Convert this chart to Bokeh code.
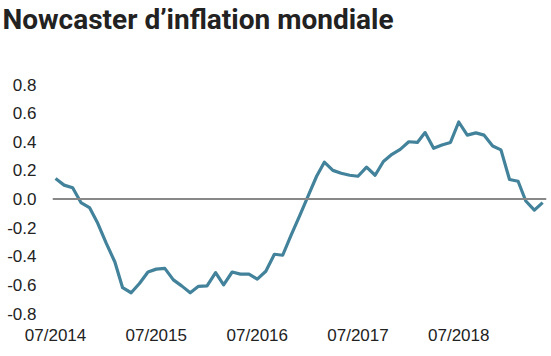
import pandas as pd
from bokeh.plotting import figure
from bokeh.models import Range1d, FixedTicker, Span, DatetimeTickFormatter, NumeralTickFormatter, ColumnDataSource, Title
from bokeh.embed import file_html
from bokeh.resources import INLINE

title_text = "Nowcaster d’inflation mondiale"
start_month = "2014-07-01"
values = [0.143, 0.097, 0.078, -0.025, -0.06, -0.17, -0.31, -0.44, -0.62, -0.655,
          -0.59, -0.51, -0.49, -0.485, -0.565, -0.607, -0.655, -0.61, -0.607, -0.515,
          -0.60, -0.51, -0.525, -0.525, -0.56, -0.505, -0.386, -0.393, -0.25, -0.12,
          0.02, 0.159, 0.257, 0.20, 0.18, 0.166, 0.159, 0.223, 0.166, 0.262,
          0.312, 0.347, 0.40, 0.395, 0.464, 0.354, 0.377, 0.395, 0.538, 0.446,
          0.462, 0.446, 0.37, 0.343, 0.136, 0.124, -0.014, -0.078, -0.025]
y_ticks = [-0.8, -0.6, -0.4, -0.2, 0.0, 0.2, 0.4, 0.6, 0.8]
x_tick_dates = ["2014-07-01", "2015-07-01", "2016-07-01", "2017-07-01", "2018-07-01"]

dates = pd.date_range(start_month, periods=len(values), freq="MS")
src = ColumnDataSource(dict(x=dates, y=values))

p = figure(width=551, height=356, x_axis_type="datetime", output_backend="svg",
           toolbar_location=None, title=None,
           x_range=Range1d(pd.Timestamp("2014-06-20"), pd.Timestamp("2019-05-15")),
           y_range=Range1d(-0.8, 0.8),
           min_border_left=52, min_border_right=5, min_border_bottom=43, min_border_top=0)

# spacer between frame and title (closest to frame)
p.add_layout(Title(text=" ", text_font_size="1px", standoff=46), "above")
p.add_layout(Title(text=title_text, text_font="Roboto", text_font_style="bold",
                   text_font_size="28px", text_color="#222222", align="left",
                   offset=-50, standoff=0), "above")

p.add_layout(Span(location=0, dimension="width", line_color="#888888", line_width=2))
p.line("x", "y", source=src, line_color="#43829b", line_width=3.2, line_join="round")

for ax in (p.xaxis, p.yaxis):
    ax.axis_line_color = None
    ax.major_tick_line_color = None
    ax.minor_tick_line_color = None
    ax.major_label_text_font = "Liberation Sans"
    ax.major_label_text_font_size = "17px"
    ax.major_label_text_color = "#222222"
    ax.major_tick_out = 0
    ax.major_tick_in = 0

p.yaxis.ticker = FixedTicker(ticks=y_ticks)
p.yaxis.formatter = NumeralTickFormatter(format="0.0")
p.yaxis.major_label_standoff = 16

p.xaxis.ticker = FixedTicker(ticks=[pd.Timestamp(d).value / 1e6 for d in x_tick_dates])
fmt = "%m/%Y"
p.xaxis.formatter = DatetimeTickFormatter(years=fmt, months=fmt, days=fmt, hours=fmt,
                                          minutes=fmt, seconds=fmt, milliseconds=fmt,
                                          microseconds=fmt, hourmin=fmt, minsec=fmt)
p.xaxis.major_label_standoff = 12

p.xgrid.grid_line_color = None
p.ygrid.grid_line_color = None
p.outline_line_color = None

open("out.html", "w").write(file_html(p, INLINE))
